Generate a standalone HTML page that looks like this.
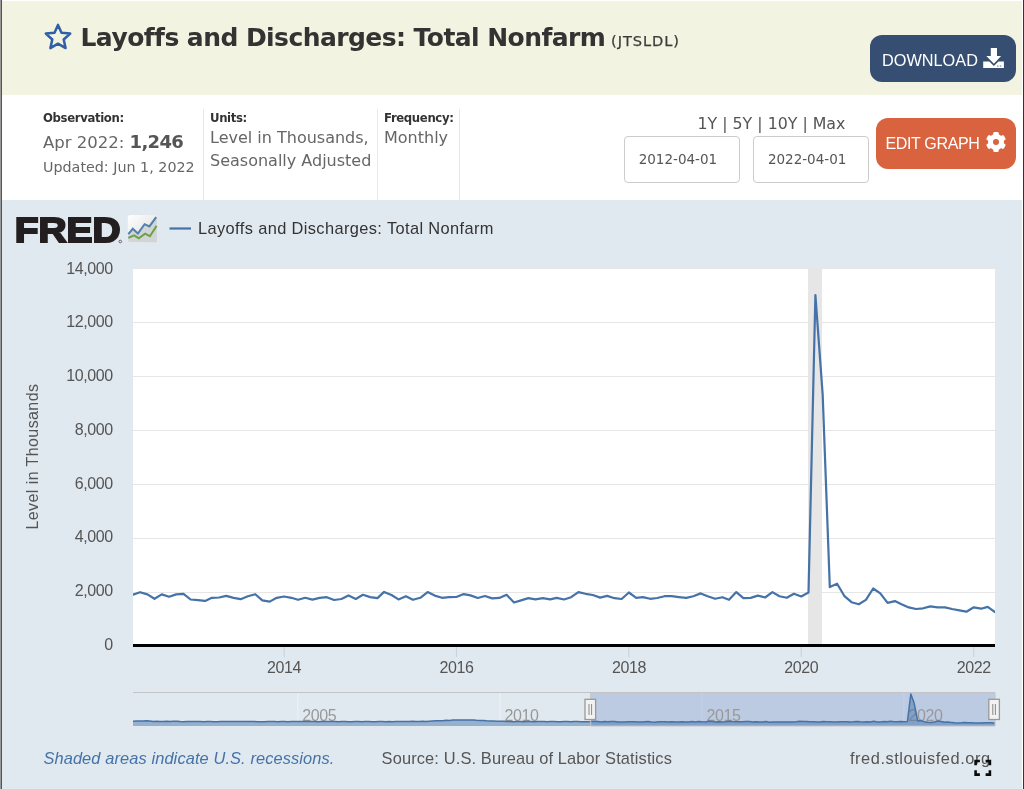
<!DOCTYPE html>
<html lang="en">
<head>
<meta charset="utf-8">
<title>Layoffs and Discharges: Total Nonfarm (JTSLDL) | FRED</title>
<style>
html,body{margin:0;padding:0;}
body{width:1024px;height:789px;overflow:hidden;background:#fff;position:relative;font-family:"DejaVu Sans","Liberation Sans",sans-serif;color:#333;}
.bl0{position:absolute;left:0;top:0;width:1px;height:789px;background:#999;}
.bl1{position:absolute;left:1px;top:0;width:1px;height:789px;background:#555;}
.br{position:absolute;left:1023px;top:0;width:1px;height:789px;background:#333;}
.head{position:absolute;left:2px;top:1px;width:1020px;height:94px;background:#f2f3e0;}
.star{position:absolute;left:42px;top:21px;}
h1{position:absolute;margin:0;left:80.5px;top:20.7px;font:bold 25px/34px "DejaVu Sans","Liberation Sans",sans-serif;color:#333;white-space:nowrap;letter-spacing:-0.56px;}
h1 small{font-weight:normal;font-size:14.6px;color:#3c3c3c;letter-spacing:0.95px;margin-left:-2.5px;-webkit-text-stroke:0.25px #3c3c3c;}
.btn{position:absolute;box-sizing:border-box;border-radius:12px;color:#fff;font:16px/20px "Liberation Sans",sans-serif;white-space:nowrap;}
.dl{left:870px;top:35px;width:146px;height:47px;background:#364e71;}
.eg{left:876px;top:118px;width:140px;height:51px;background:#d9623f;}
.btn span{position:absolute;}
.meta{position:absolute;top:109px;height:91px;border-left:1px solid #e3e9f0;}
.meta b{position:absolute;left:6px;top:1px;font:bold 11.7px/16px "DejaVu Sans","Liberation Sans",sans-serif;color:#333;white-space:nowrap;letter-spacing:-0.36px;}
.meta p{position:absolute;left:6px;margin:0;color:#666;white-space:nowrap;}
.rng{position:absolute;left:697.5px;top:113px;font:15.8px/22px "DejaVu Sans","Liberation Sans",sans-serif;color:#555;white-space:nowrap;}
.inp{position:absolute;top:136px;height:47px;width:116px;box-sizing:border-box;border:1px solid #ccc;border-radius:4px;background:#fff;font:13.5px/45px "DejaVu Sans","Liberation Sans",sans-serif;color:#555;text-align:left;padding-left:13.7px;}
.chartbg{position:absolute;left:2px;top:200px;width:1020px;height:589px;background:#e1e9f0;}
svg.chart{position:absolute;left:0;top:200px;}
svg text{font-family:"Liberation Sans",sans-serif;}
.ax{font-size:16px;fill:#555;}
.lg{font-size:16.4px;fill:#333;}
.nv{font-size:16px;fill:#999;}
.ft{font-size:16.4px;fill:#555;}
.it{font-style:italic;}
.fred{font-size:35.8px;font-weight:700;fill:#231f20;stroke:#231f20;stroke-width:2px;stroke-linejoin:miter;}
</style>
</head>
<body>
<div class="head"></div>
<svg class="star" width="32" height="32" viewBox="0 0 32 32"><path d="M16 3.9 L19.5 11.7 L28.2 12.6 L21.7 18.5 L23.6 27.1 L16 22.7 L8.4 27.1 L10.3 18.5 L3.8 12.6 L12.5 11.7 Z" fill="none" stroke="#2f5fa8" stroke-width="2.5" stroke-linejoin="round"/></svg>
<h1>Layoffs and Discharges: Total Nonfarm <small>(JTSLDL)</small></h1>
<div class="btn dl"><span style="left:12px;top:14.5px;font-size:16.3px">DOWNLOAD</span>
<svg style="position:absolute;left:113px;top:12px" width="22" height="23" viewBox="0 0 22 23"><path d="M7.8 1 H14 V9 H18.1 L10.9 16.7 L3.3 9 H7.8 Z" fill="#fff"/><path d="M0.2 14.5 H6.3 L10.9 19.1 L15.4 14.5 H20.9 V21.1 H0.2 Z" fill="#fff"/><rect x="14" y="18.4" width="1.5" height="1.4" fill="#8a9ab5"/><rect x="16.8" y="18.4" width="1.5" height="1.4" fill="#8a9ab5"/></svg></div>
<div class="meta" style="left:37px;border-left:none"><b>Observation:</b><p style="top:21px;font-size:16.5px;line-height:24px">Apr 2022: <span style="font-weight:bold;font-size:18px;color:#555;letter-spacing:-0.7px">1,246</span></p><p style="top:48px;font-size:14.3px;line-height:20px">Updated: Jun 1, 2022</p></div>
<div class="meta" style="left:203px"><b>Units:</b><p style="top:17px;font-size:16px;line-height:23px">Level in Thousands,<br>Seasonally Adjusted</p></div>
<div class="meta" style="left:377px"><b>Frequency:</b><p style="top:17px;font-size:16px;line-height:23px">Monthly</p></div>
<div class="meta" style="left:459px"></div>
<div class="rng">1Y | 5Y | 10Y | Max</div>
<div class="inp" style="left:624px;width:115.5px">2012-04-01</div>
<div class="inp" style="left:753.2px;width:116.2px">2022-04-01</div>
<div class="btn eg"><span style="left:9.4px;top:16px;letter-spacing:-0.33px">EDIT GRAPH</span>
<svg style="position:absolute;left:109px;top:13px" width="22" height="22" viewBox="-11 -11 22 22"><g fill="#fff"><rect x="-2.7" y="-10" width="5.4" height="6" rx="1.2" transform="rotate(0)"/><rect x="-2.7" y="-10" width="5.4" height="6" rx="1.2" transform="rotate(60)"/><rect x="-2.7" y="-10" width="5.4" height="6" rx="1.2" transform="rotate(120)"/><rect x="-2.7" y="-10" width="5.4" height="6" rx="1.2" transform="rotate(180)"/><rect x="-2.7" y="-10" width="5.4" height="6" rx="1.2" transform="rotate(240)"/><rect x="-2.7" y="-10" width="5.4" height="6" rx="1.2" transform="rotate(300)"/></g><circle r="5.5" fill="none" stroke="#fff" stroke-width="5"/></svg></div>
<div class="chartbg"></div>
<svg class="chart" width="1022" height="589" viewBox="0 200 1022 589">
<defs><linearGradient id="ig" x1="0" y1="0" x2="1" y2="1"><stop offset="0" stop-color="#ffffff"/><stop offset="0.5" stop-color="#ececed"/><stop offset="1" stop-color="#d6d6d8"/></linearGradient></defs>
<rect x="133" y="268" width="862" height="378" fill="#fff"/>
<rect x="808" y="268" width="14" height="378" fill="#e6e6e6"/>
<path d="M133 268.5 H995" stroke="#e6e6e6" stroke-width="1" fill="none"/>
<path d="M133 322.5 H995" stroke="#e6e6e6" stroke-width="1" fill="none"/>
<path d="M133 376.5 H995" stroke="#e6e6e6" stroke-width="1" fill="none"/>
<path d="M133 430.5 H995" stroke="#e6e6e6" stroke-width="1" fill="none"/>
<path d="M133 484.5 H995" stroke="#e6e6e6" stroke-width="1" fill="none"/>
<path d="M133 538.5 H995" stroke="#e6e6e6" stroke-width="1" fill="none"/>
<path d="M133 592.5 H995" stroke="#e6e6e6" stroke-width="1" fill="none"/>
<text x="112.6" y="273.6" text-anchor="end" class="ax" letter-spacing="-0.45">14,000</text>
<text x="112.6" y="327.4" text-anchor="end" class="ax" letter-spacing="-0.45">12,000</text>
<text x="112.6" y="381.1" text-anchor="end" class="ax" letter-spacing="-0.45">10,000</text>
<text x="112.6" y="434.9" text-anchor="end" class="ax" letter-spacing="-0.45">8,000</text>
<text x="112.6" y="488.6" text-anchor="end" class="ax" letter-spacing="-0.45">6,000</text>
<text x="112.6" y="542.4" text-anchor="end" class="ax" letter-spacing="-0.45">4,000</text>
<text x="112.6" y="596.1" text-anchor="end" class="ax" letter-spacing="-0.45">2,000</text>
<text x="112.6" y="649.9" text-anchor="end" class="ax" letter-spacing="-0.45">0</text>
<text transform="translate(38.2 529.5) rotate(-90)" class="ax" textLength="145.5" lengthAdjust="spacing">Level in Thousands</text>
<path d="M284.1 646.5 V657" stroke="#c0d0e0" stroke-width="1" fill="none"/>
<text x="284.1" y="672.5" text-anchor="middle" class="ax" letter-spacing="-0.4">2014</text>
<path d="M456.4 646.5 V657" stroke="#c0d0e0" stroke-width="1" fill="none"/>
<text x="456.4" y="672.5" text-anchor="middle" class="ax" letter-spacing="-0.4">2016</text>
<path d="M628.9 646.5 V657" stroke="#c0d0e0" stroke-width="1" fill="none"/>
<text x="628.9" y="672.5" text-anchor="middle" class="ax" letter-spacing="-0.4">2018</text>
<path d="M801.2 646.5 V657" stroke="#c0d0e0" stroke-width="1" fill="none"/>
<text x="801.2" y="672.5" text-anchor="middle" class="ax" letter-spacing="-0.4">2020</text>
<path d="M973.8 646.5 V657" stroke="#c0d0e0" stroke-width="1" fill="none"/>
<text x="973.8" y="672.5" text-anchor="middle" class="ax" letter-spacing="-0.4">2022</text>
<clipPath id="pc"><rect x="133" y="268" width="862" height="380"/></clipPath>
<path clip-path="url(#pc)" d="M133.0 594.6 L140.1 592.2 L147.4 594.4 L154.5 598.8 L161.8 594.4 L169.1 596.8 L176.2 594.4 L183.5 593.8 L190.6 599.5 L197.9 600.2 L205.2 600.9 L211.8 597.8 L219.2 597.5 L226.2 595.9 L233.6 597.9 L240.6 599.2 L247.9 596.2 L255.3 594.2 L262.3 600.4 L269.7 601.6 L276.7 597.8 L284.1 596.5 L291.4 597.8 L298.0 599.8 L305.3 597.8 L312.4 599.6 L319.7 597.9 L326.8 597.2 L334.1 600.0 L341.4 599.0 L348.5 595.4 L355.8 599.0 L362.9 594.8 L370.2 597.1 L377.5 598.1 L384.1 591.9 L391.5 595.0 L398.5 599.4 L405.9 596.2 L412.9 599.8 L420.3 597.8 L427.6 592.1 L434.7 595.6 L442.0 597.8 L449.1 597.1 L456.4 597.0 L463.7 594.1 L470.5 595.4 L477.8 598.0 L484.9 596.0 L492.2 598.4 L499.3 597.9 L506.6 594.8 L514.0 602.5 L521.0 600.4 L528.4 598.1 L535.4 599.4 L542.8 598.2 L550.1 599.4 L556.7 597.9 L564.0 599.5 L571.1 597.2 L578.4 592.1 L585.5 593.8 L592.8 595.0 L600.1 597.6 L607.2 595.9 L614.5 598.2 L621.6 599.0 L628.9 592.5 L636.2 597.8 L642.8 597.1 L650.2 598.8 L657.2 598.0 L664.6 596.2 L671.6 596.2 L678.9 597.1 L686.3 597.9 L693.3 596.2 L700.7 593.4 L707.7 596.2 L715.1 598.8 L722.4 597.2 L729.0 599.8 L736.3 592.1 L743.4 598.1 L750.7 597.9 L757.8 595.6 L765.1 597.5 L772.4 592.1 L779.5 596.2 L786.8 597.8 L793.9 593.8 L801.2 596.5 L808.5 592.5 L815.4 295.0 L822.7 395.2 L829.8 587.1 L837.1 583.7 L844.2 595.8 L851.5 602.2 L858.8 604.3 L865.9 599.9 L873.2 588.5 L880.3 593.4 L887.6 602.9 L894.9 601.1 L901.5 604.3 L908.8 607.4 L915.9 609.0 L923.2 608.3 L930.3 606.4 L937.6 607.4 L945.0 607.4 L952.0 609.0 L959.4 610.4 L966.4 611.7 L973.8 607.3 L981.1 608.7 L987.7 606.9 L995.0 612.2" stroke="#4572A7" stroke-width="2.2" fill="none" stroke-linejoin="round" stroke-linecap="round"/>
<rect x="133" y="644" width="862" height="3" fill="#000"/>
<text x="14.7" y="241.6" class="fred" textLength="105.8" lengthAdjust="spacingAndGlyphs">FRED</text>
<circle cx="120.3" cy="241.5" r="1.3" fill="none" stroke="#231f20" stroke-width="0.6"/>
<rect x="127.8" y="215" width="29.2" height="27.5" rx="2.5" fill="url(#ig)"/>
<path d="M128.3 234.1 L132.8 228.8 L137.9 233.6 L144.6 224.2 L149.4 226.4 L156.2 217.2 L156.8 217.2 V242 H128.3 Z" fill="#d3d4d6"/>
<path d="M128.3 234.1 L132.8 228.8 L137.9 233.6 L144.6 224.2 L149.4 226.4 L156.2 217.2" stroke="#4f80b0" stroke-width="2" fill="none"/>
<path d="M128.3 237.9 L134 235.3 L138.8 238.2 L145.1 233.6 L149.9 236.2 L156.6 225.9" stroke="#6aa34a" stroke-width="2" fill="none"/>
<path d="M169.5 228.5 H191" stroke="#4572A7" stroke-width="2.2" fill="none"/>
<text x="198" y="234.2" class="lg" textLength="295.5" lengthAdjust="spacing">Layoffs and Discharges: Total Nonfarm</text>
<path d="M297.9 693 V722" stroke="#eef2f6" stroke-width="1" fill="none"/>
<path d="M500.0 693 V722" stroke="#eef2f6" stroke-width="1" fill="none"/>
<path d="M702.0 693 V722" stroke="#eef2f6" stroke-width="1" fill="none"/>
<path d="M904.0 693 V722" stroke="#eef2f6" stroke-width="1" fill="none"/>
<rect x="590.7" y="692.5" width="404.3" height="33.5" fill="rgba(102,133,194,0.3)"/>
<text x="302.3" y="720.6" class="nv" letter-spacing="-0.4">2005</text>
<text x="504.4" y="720.6" class="nv" letter-spacing="-0.4">2010</text>
<text x="706.4" y="720.6" class="nv" letter-spacing="-0.4">2015</text>
<text x="908.4" y="720.6" class="nv" letter-spacing="-0.4">2020</text>
<path d="M133.0 721.3 L136.4 721.1 L139.7 721.1 L143.1 721.0 L146.5 720.7 L149.8 720.9 L153.2 721.4 L156.6 721.2 L159.9 721.5 L163.3 721.5 L166.7 721.3 L170.0 721.4 L173.4 721.2 L176.8 721.2 L180.1 721.6 L183.5 721.7 L186.9 721.6 L190.2 721.5 L193.6 721.6 L197.0 721.5 L200.3 721.5 L203.7 721.8 L207.1 721.5 L210.4 721.6 L213.8 721.7 L217.2 721.8 L220.5 721.5 L223.9 721.6 L227.3 721.5 L230.6 721.5 L234.0 721.5 L237.4 721.5 L240.8 721.6 L244.1 721.5 L247.5 721.6 L250.9 721.5 L254.2 721.5 L257.6 721.7 L261.0 721.7 L264.3 721.7 L267.7 721.4 L271.1 721.6 L274.4 721.6 L277.8 721.7 L281.2 721.6 L284.5 721.6 L287.9 721.7 L291.3 721.6 L294.6 721.6 L298.0 721.5 L301.4 721.5 L304.7 721.5 L308.1 721.5 L311.5 721.4 L314.8 721.5 L318.2 721.7 L321.6 721.5 L324.9 721.4 L328.3 721.5 L331.7 721.6 L335.0 721.5 L338.4 721.7 L341.8 721.5 L345.1 721.6 L348.5 721.7 L351.9 721.8 L355.2 721.5 L358.6 721.4 L362.0 721.7 L365.3 721.5 L368.7 721.6 L372.1 721.7 L375.4 721.7 L378.8 721.5 L382.2 721.5 L385.5 721.8 L388.9 721.6 L392.3 721.8 L395.6 721.5 L399.0 721.6 L402.4 721.4 L405.7 721.4 L409.1 721.5 L412.5 721.3 L415.8 721.5 L419.2 721.6 L422.6 721.3 L425.9 721.4 L429.3 721.2 L432.7 721.0 L436.0 720.8 L439.4 720.8 L442.8 720.7 L446.1 720.3 L449.5 720.4 L452.9 720.0 L456.2 719.9 L459.6 720.1 L463.0 720.0 L466.4 720.0 L469.7 720.0 L473.1 720.1 L476.5 720.3 L479.8 720.4 L483.2 720.4 L486.6 720.7 L489.9 720.9 L493.3 720.9 L496.7 721.2 L500.0 721.3 L503.4 721.2 L506.8 721.4 L510.1 721.4 L513.5 721.7 L516.9 721.6 L520.2 721.5 L523.6 721.7 L527.0 721.5 L530.3 721.5 L533.7 721.8 L537.1 721.6 L540.4 721.6 L543.8 721.5 L547.2 721.7 L550.5 721.5 L553.9 721.5 L557.3 721.8 L560.6 721.8 L564.0 721.5 L567.4 721.4 L570.7 721.7 L574.1 721.6 L577.5 721.6 L580.8 721.7 L584.2 721.7 L587.6 721.7 L590.9 721.6 L594.3 721.3 L597.7 721.5 L601.0 721.9 L604.4 721.5 L607.8 721.7 L611.1 721.5 L614.5 721.5 L617.9 722.0 L621.2 722.1 L624.6 722.1 L628.0 721.8 L631.3 721.8 L634.7 721.7 L638.1 721.9 L641.4 722.0 L644.8 721.7 L648.2 721.5 L651.5 722.1 L654.9 722.2 L658.3 721.8 L661.6 721.7 L665.0 721.8 L668.4 722.0 L671.8 721.8 L675.1 722.0 L678.5 721.9 L681.9 721.8 L685.2 722.0 L688.6 722.0 L692.0 721.6 L695.3 722.0 L698.7 721.6 L702.1 721.8 L705.4 721.9 L708.8 721.3 L712.2 721.6 L715.5 722.0 L718.9 721.7 L722.3 722.0 L725.6 721.8 L729.0 721.3 L732.4 721.6 L735.7 721.8 L739.1 721.8 L742.5 721.8 L745.8 721.5 L749.2 721.6 L752.6 721.9 L755.9 721.7 L759.3 721.9 L762.7 721.9 L766.0 721.6 L769.4 722.3 L772.8 722.1 L776.1 721.9 L779.5 722.0 L782.9 721.9 L786.2 722.0 L789.6 721.9 L793.0 722.0 L796.3 721.8 L799.7 721.3 L803.1 721.5 L806.4 721.6 L809.8 721.8 L813.2 721.7 L816.5 721.9 L819.9 722.0 L823.3 721.4 L826.6 721.8 L830.0 721.8 L833.4 721.9 L836.7 721.9 L840.1 721.7 L843.5 721.7 L846.8 721.8 L850.2 721.9 L853.6 721.7 L856.9 721.4 L860.3 721.7 L863.7 721.9 L867.0 721.8 L870.4 722.0 L873.8 721.3 L877.1 721.9 L880.5 721.9 L883.9 721.6 L887.2 721.8 L890.6 721.3 L894.0 721.7 L897.4 721.8 L900.7 721.5 L904.1 721.7 L907.5 721.4 L910.8 694.1 L914.2 703.3 L917.6 720.9 L920.9 720.6 L924.3 721.7 L927.7 722.2 L931.0 722.4 L934.4 722.0 L937.8 721.0 L941.1 721.4 L944.5 722.3 L947.9 722.1 L951.2 722.4 L954.6 722.7 L958.0 722.9 L961.3 722.8 L964.7 722.6 L968.1 722.7 L971.4 722.7 L974.8 722.9 L978.2 723.0 L981.5 723.1 L984.9 722.7 L988.3 722.8 L991.6 722.7 L995.0 723.2 L995.0 726 L133.0 726 Z" fill="rgba(69,114,167,0.48)" stroke="none"/>
<path d="M133.0 721.3 L136.4 721.1 L139.7 721.1 L143.1 721.0 L146.5 720.7 L149.8 720.9 L153.2 721.4 L156.6 721.2 L159.9 721.5 L163.3 721.5 L166.7 721.3 L170.0 721.4 L173.4 721.2 L176.8 721.2 L180.1 721.6 L183.5 721.7 L186.9 721.6 L190.2 721.5 L193.6 721.6 L197.0 721.5 L200.3 721.5 L203.7 721.8 L207.1 721.5 L210.4 721.6 L213.8 721.7 L217.2 721.8 L220.5 721.5 L223.9 721.6 L227.3 721.5 L230.6 721.5 L234.0 721.5 L237.4 721.5 L240.8 721.6 L244.1 721.5 L247.5 721.6 L250.9 721.5 L254.2 721.5 L257.6 721.7 L261.0 721.7 L264.3 721.7 L267.7 721.4 L271.1 721.6 L274.4 721.6 L277.8 721.7 L281.2 721.6 L284.5 721.6 L287.9 721.7 L291.3 721.6 L294.6 721.6 L298.0 721.5 L301.4 721.5 L304.7 721.5 L308.1 721.5 L311.5 721.4 L314.8 721.5 L318.2 721.7 L321.6 721.5 L324.9 721.4 L328.3 721.5 L331.7 721.6 L335.0 721.5 L338.4 721.7 L341.8 721.5 L345.1 721.6 L348.5 721.7 L351.9 721.8 L355.2 721.5 L358.6 721.4 L362.0 721.7 L365.3 721.5 L368.7 721.6 L372.1 721.7 L375.4 721.7 L378.8 721.5 L382.2 721.5 L385.5 721.8 L388.9 721.6 L392.3 721.8 L395.6 721.5 L399.0 721.6 L402.4 721.4 L405.7 721.4 L409.1 721.5 L412.5 721.3 L415.8 721.5 L419.2 721.6 L422.6 721.3 L425.9 721.4 L429.3 721.2 L432.7 721.0 L436.0 720.8 L439.4 720.8 L442.8 720.7 L446.1 720.3 L449.5 720.4 L452.9 720.0 L456.2 719.9 L459.6 720.1 L463.0 720.0 L466.4 720.0 L469.7 720.0 L473.1 720.1 L476.5 720.3 L479.8 720.4 L483.2 720.4 L486.6 720.7 L489.9 720.9 L493.3 720.9 L496.7 721.2 L500.0 721.3 L503.4 721.2 L506.8 721.4 L510.1 721.4 L513.5 721.7 L516.9 721.6 L520.2 721.5 L523.6 721.7 L527.0 721.5 L530.3 721.5 L533.7 721.8 L537.1 721.6 L540.4 721.6 L543.8 721.5 L547.2 721.7 L550.5 721.5 L553.9 721.5 L557.3 721.8 L560.6 721.8 L564.0 721.5 L567.4 721.4 L570.7 721.7 L574.1 721.6 L577.5 721.6 L580.8 721.7 L584.2 721.7 L587.6 721.7 L590.9 721.6 L594.3 721.3 L597.7 721.5 L601.0 721.9 L604.4 721.5 L607.8 721.7 L611.1 721.5 L614.5 721.5 L617.9 722.0 L621.2 722.1 L624.6 722.1 L628.0 721.8 L631.3 721.8 L634.7 721.7 L638.1 721.9 L641.4 722.0 L644.8 721.7 L648.2 721.5 L651.5 722.1 L654.9 722.2 L658.3 721.8 L661.6 721.7 L665.0 721.8 L668.4 722.0 L671.8 721.8 L675.1 722.0 L678.5 721.9 L681.9 721.8 L685.2 722.0 L688.6 722.0 L692.0 721.6 L695.3 722.0 L698.7 721.6 L702.1 721.8 L705.4 721.9 L708.8 721.3 L712.2 721.6 L715.5 722.0 L718.9 721.7 L722.3 722.0 L725.6 721.8 L729.0 721.3 L732.4 721.6 L735.7 721.8 L739.1 721.8 L742.5 721.8 L745.8 721.5 L749.2 721.6 L752.6 721.9 L755.9 721.7 L759.3 721.9 L762.7 721.9 L766.0 721.6 L769.4 722.3 L772.8 722.1 L776.1 721.9 L779.5 722.0 L782.9 721.9 L786.2 722.0 L789.6 721.9 L793.0 722.0 L796.3 721.8 L799.7 721.3 L803.1 721.5 L806.4 721.6 L809.8 721.8 L813.2 721.7 L816.5 721.9 L819.9 722.0 L823.3 721.4 L826.6 721.8 L830.0 721.8 L833.4 721.9 L836.7 721.9 L840.1 721.7 L843.5 721.7 L846.8 721.8 L850.2 721.9 L853.6 721.7 L856.9 721.4 L860.3 721.7 L863.7 721.9 L867.0 721.8 L870.4 722.0 L873.8 721.3 L877.1 721.9 L880.5 721.9 L883.9 721.6 L887.2 721.8 L890.6 721.3 L894.0 721.7 L897.4 721.8 L900.7 721.5 L904.1 721.7 L907.5 721.4 L910.8 694.1 L914.2 703.3 L917.6 720.9 L920.9 720.6 L924.3 721.7 L927.7 722.2 L931.0 722.4 L934.4 722.0 L937.8 721.0 L941.1 721.4 L944.5 722.3 L947.9 722.1 L951.2 722.4 L954.6 722.7 L958.0 722.9 L961.3 722.8 L964.7 722.6 L968.1 722.7 L971.4 722.7 L974.8 722.9 L978.2 723.0 L981.5 723.1 L984.9 722.7 L988.3 722.8 L991.6 722.7 L995.0 723.2" stroke="#4572A7" stroke-width="1.5" fill="none" stroke-linejoin="round"/>
<path d="M133 692.5 H995 V726 H590.7 V692.5" stroke="#c4c4c6" stroke-width="1" fill="none"/>
<rect x="585.0" y="699.3" width="10.6" height="20.2" fill="#f2f2f2" stroke="#999" stroke-width="1.3"/>
<path d="M589.0 704 V715 M591.6 704 V715" stroke="#888" stroke-width="1" fill="none"/>
<rect x="988.8" y="699.3" width="10.6" height="20.2" fill="#f2f2f2" stroke="#999" stroke-width="1.3"/>
<path d="M992.8 704 V715 M995.4 704 V715" stroke="#888" stroke-width="1" fill="none"/>
<text x="43.4" y="764.4" class="ft it" style="fill:#4572A7" textLength="291" lengthAdjust="spacing">Shaded areas indicate U.S. recessions.</text>
<text x="381.6" y="764.4" class="ft" textLength="290.3" lengthAdjust="spacing">Source: U.S. Bureau of Labor Statistics</text>
<text x="850" y="764.4" class="ft" textLength="140" lengthAdjust="spacing">fred.stlouisfed.org</text>
<path d="M975.6 765.3 V761 H979.9 M985.6 761 H989.9 V765.3 M989.9 770.3 V774.6 H985.6 M979.9 774.6 H975.6 V770.3" stroke="#0a0a0a" stroke-width="2.6" fill="none"/>
</svg>
<div class="bl0"></div><div class="bl1"></div><div class="br"></div>
</body>
</html>
